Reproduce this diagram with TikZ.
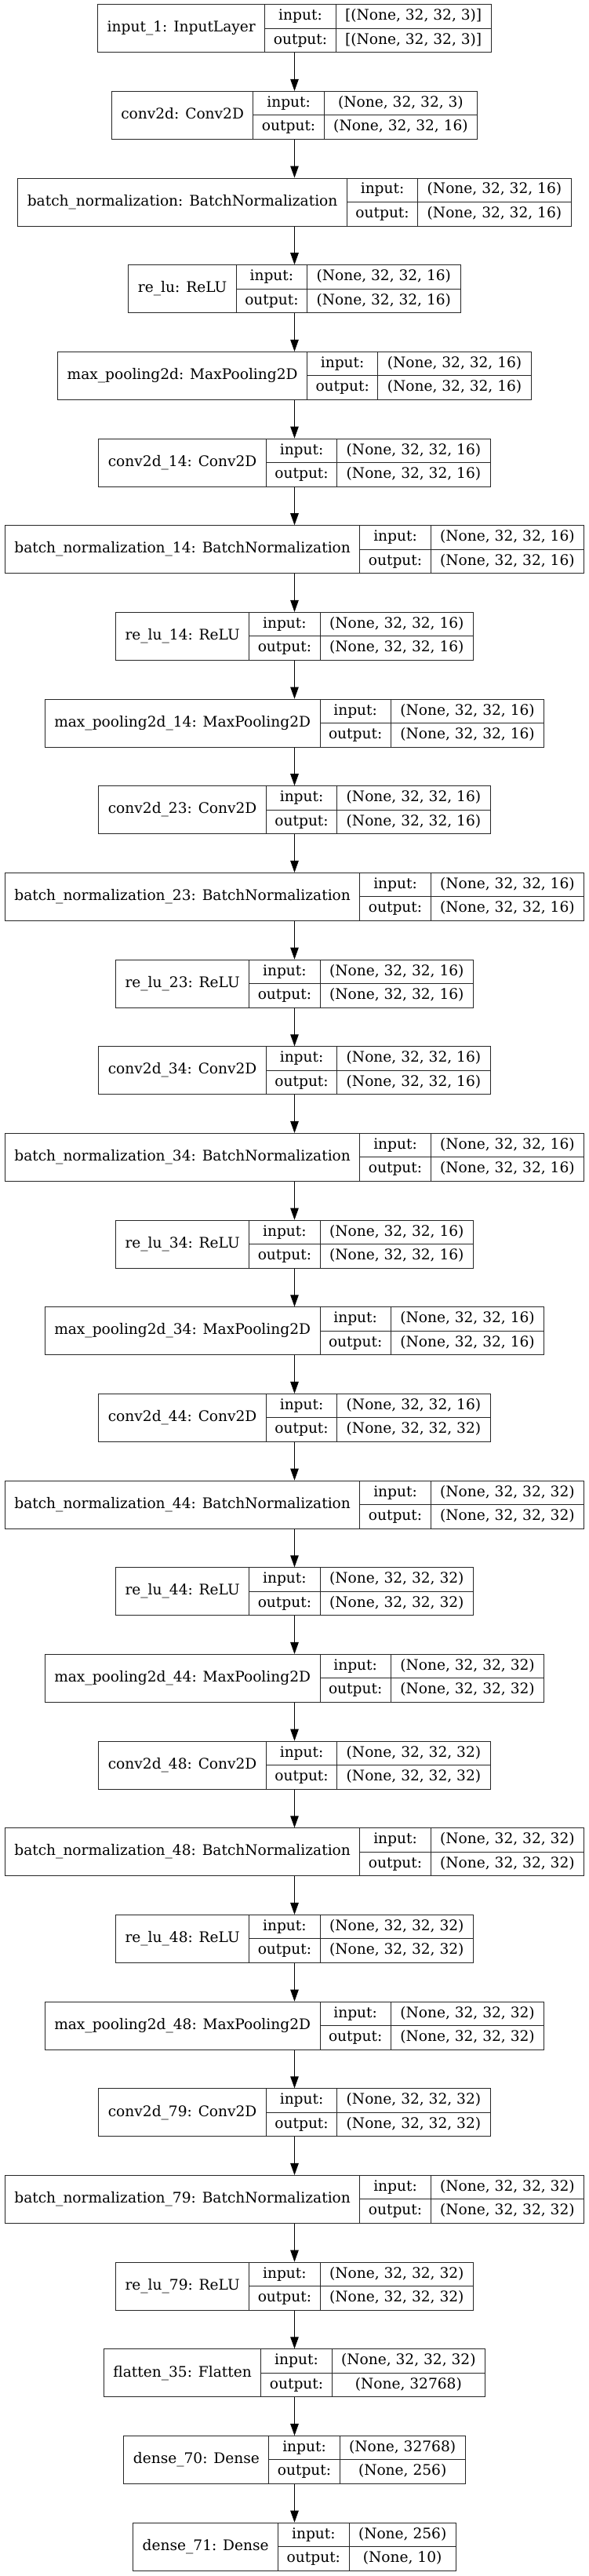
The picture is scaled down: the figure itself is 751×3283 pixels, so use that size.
\documentclass[tikz,border=0pt]{standalone}
\usepackage{fontspec}
\setmainfont{DejaVu Serif}
\usetikzlibrary{arrows.meta}
\newlength\wna
\newlength\wsa
\newlength\wsb
\newlength\wlab
\font\klf="DejaVu Serif" at 18.6pt
\newcommand\lfont{\fontsize{18.6pt}{22pt}\selectfont}
\tikzset{
  lbox/.style={draw=black!85, line width=1pt, minimum height=61pt, inner sep=0pt},
  kcell/.style={draw=black!85, line width=1pt, inner sep=0pt, font=\lfont, text height=13.6pt, text depth=4.2pt, align=center},
  flow/.style={-{Triangle[length=15pt,width=10.5pt]}, line width=1pt, black},
}
\newcommand\klayer[5]{%
  \settowidth\wna{\klf #3}%
  \settowidth\wsa{\klf #4}%
  \settowidth\wsb{\klf #5}%
  \ifdim\wsb>\wsa \wsa=\wsb\fi
  \pgfmathsetmacro\cn{\wna+24}%
  \pgfmathsetmacro\cl{\wlab+22}%
  \pgfmathsetmacro\cs{\wsa+24}%
  \pgfmathsetmacro\tw{\cn+\cl+\cs}%
  \pgfmathsetmacro\cy{36.2+110.67*#2}%
  \pgfmathsetmacro\lx{375.5-\tw/2}%
  \node[lbox, minimum width=\tw pt] (#1) at (375.5,\cy) {};
  \node[kcell, minimum width=\cn pt, minimum height=61pt] (#1-name) at (\lx+\cn/2,\cy) {#3};
  \node[kcell, minimum width=\cl pt, minimum height=30.5pt] (#1-il) at (\lx+\cn+\cl/2,\cy-15.25) {input:};
  \node[kcell, minimum width=\cl pt, minimum height=30.5pt] (#1-ol) at (\lx+\cn+\cl/2,\cy+15.25) {output:};
  \node[kcell, minimum width=\cs pt, minimum height=30.5pt] (#1-iv) at (\lx+\cn+\cl+\cs/2,\cy-15.25) {#4};
  \node[kcell, minimum width=\cs pt, minimum height=30.5pt] (#1-ov) at (\lx+\cn+\cl+\cs/2,\cy+15.25) {#5};
}
\begin{document}
\begin{tikzpicture}[x=1pt,y=-1pt]
\fill[white] (0,0) rectangle (751,3283);
\useasboundingbox (0,0) rectangle (751,3283);
\settowidth\wlab{\klf output:}
\klayer{L0}{0}{input\_1: InputLayer}{[(None, 32, 32, 3)]}{[(None, 32, 32, 3)]}
\klayer{L1}{1}{conv2d: Conv2D}{(None, 32, 32, 3)}{(None, 32, 32, 16)}
\klayer{L2}{2}{batch\_normalization: BatchNormalization}{(None, 32, 32, 16)}{(None, 32, 32, 16)}
\klayer{L3}{3}{re\_lu: ReLU}{(None, 32, 32, 16)}{(None, 32, 32, 16)}
\klayer{L4}{4}{max\_pooling2d: MaxPooling2D}{(None, 32, 32, 16)}{(None, 32, 32, 16)}
\klayer{L5}{5}{conv2d\_14: Conv2D}{(None, 32, 32, 16)}{(None, 32, 32, 16)}
\klayer{L6}{6}{batch\_normalization\_14: BatchNormalization}{(None, 32, 32, 16)}{(None, 32, 32, 16)}
\klayer{L7}{7}{re\_lu\_14: ReLU}{(None, 32, 32, 16)}{(None, 32, 32, 16)}
\klayer{L8}{8}{max\_pooling2d\_14: MaxPooling2D}{(None, 32, 32, 16)}{(None, 32, 32, 16)}
\klayer{L9}{9}{conv2d\_23: Conv2D}{(None, 32, 32, 16)}{(None, 32, 32, 16)}
\klayer{L10}{10}{batch\_normalization\_23: BatchNormalization}{(None, 32, 32, 16)}{(None, 32, 32, 16)}
\klayer{L11}{11}{re\_lu\_23: ReLU}{(None, 32, 32, 16)}{(None, 32, 32, 16)}
\klayer{L12}{12}{conv2d\_34: Conv2D}{(None, 32, 32, 16)}{(None, 32, 32, 16)}
\klayer{L13}{13}{batch\_normalization\_34: BatchNormalization}{(None, 32, 32, 16)}{(None, 32, 32, 16)}
\klayer{L14}{14}{re\_lu\_34: ReLU}{(None, 32, 32, 16)}{(None, 32, 32, 16)}
\klayer{L15}{15}{max\_pooling2d\_34: MaxPooling2D}{(None, 32, 32, 16)}{(None, 32, 32, 16)}
\klayer{L16}{16}{conv2d\_44: Conv2D}{(None, 32, 32, 16)}{(None, 32, 32, 32)}
\klayer{L17}{17}{batch\_normalization\_44: BatchNormalization}{(None, 32, 32, 32)}{(None, 32, 32, 32)}
\klayer{L18}{18}{re\_lu\_44: ReLU}{(None, 32, 32, 32)}{(None, 32, 32, 32)}
\klayer{L19}{19}{max\_pooling2d\_44: MaxPooling2D}{(None, 32, 32, 32)}{(None, 32, 32, 32)}
\klayer{L20}{20}{conv2d\_48: Conv2D}{(None, 32, 32, 32)}{(None, 32, 32, 32)}
\klayer{L21}{21}{batch\_normalization\_48: BatchNormalization}{(None, 32, 32, 32)}{(None, 32, 32, 32)}
\klayer{L22}{22}{re\_lu\_48: ReLU}{(None, 32, 32, 32)}{(None, 32, 32, 32)}
\klayer{L23}{23}{max\_pooling2d\_48: MaxPooling2D}{(None, 32, 32, 32)}{(None, 32, 32, 32)}
\klayer{L24}{24}{conv2d\_79: Conv2D}{(None, 32, 32, 32)}{(None, 32, 32, 32)}
\klayer{L25}{25}{batch\_normalization\_79: BatchNormalization}{(None, 32, 32, 32)}{(None, 32, 32, 32)}
\klayer{L26}{26}{re\_lu\_79: ReLU}{(None, 32, 32, 32)}{(None, 32, 32, 32)}
\klayer{L27}{27}{flatten\_35: Flatten}{(None, 32, 32, 32)}{(None, 32768)}
\klayer{L28}{28}{dense\_70: Dense}{(None, 32768)}{(None, 256)}
\klayer{L29}{29}{dense\_71: Dense}{(None, 256)}{(None, 10)}
\foreach \a [evaluate=\a as \b using int(\a+1)] in {0,...,28}
  \draw[flow] (L\a.south) -- (L\b.north);
\end{tikzpicture}
\end{document}
